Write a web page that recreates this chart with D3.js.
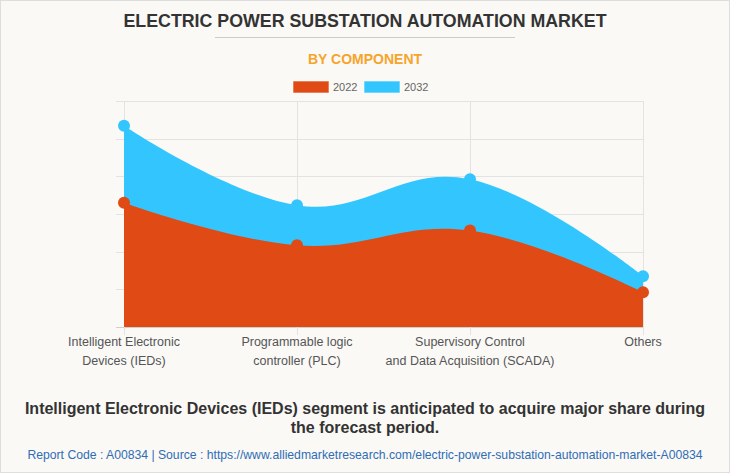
<!DOCTYPE html>
<html>
<head>
<meta charset="utf-8">
<script src="https://cdn.jsdelivr.net/npm/d3@7"></script>
<style>
  html, body { margin: 0; padding: 0; background: #faf9f5; }
  svg { display: block; font-family: "Liberation Sans", Arial, sans-serif; }
</style>
</head>
<body>
<svg id="main"></svg>
<script>
var categories = [
  ["Intelligent Electronic", "Devices (IEDs)"],
  ["Programmable logic", "controller (PLC)"],
  ["Supervisory Control", "and Data Acquisition (SCADA)"],
  ["Others"]
];
var years = ["2022", "2032"];
var values2022 = [3.30, 2.17, 2.56, 0.92];
var values2032 = [5.34, 3.23, 3.92, 1.35];
var yTicks = [0, 1, 2, 3, 4, 5, 6];

var W = 730, H = 473;
var colors = { "2022": "#e04a15", "2032": "#33c6fe" };

var svg = d3.select("#main").attr("width", W).attr("height", H);

// page frame
svg.append("rect")
  .attr("x", 0.5).attr("y", 0.5)
  .attr("width", W - 1).attr("height", H - 1)
  .attr("fill", "#faf9f5").attr("stroke", "#dedede");

// titles
svg.append("text")
  .attr("x", W / 2).attr("y", 27)
  .attr("text-anchor", "middle")
  .attr("font-size", "17.8px").attr("font-weight", "bold")
  .attr("fill", "#333")
  .text("ELECTRIC POWER SUBSTATION AUTOMATION MARKET");

svg.append("line")
  .attr("x1", 215).attr("x2", 515)
  .attr("y1", 37.5).attr("y2", 37.5)
  .attr("stroke", "#cccccc");

svg.append("text")
  .attr("x", W / 2).attr("y", 64)
  .attr("text-anchor", "middle")
  .attr("font-size", "14px").attr("font-weight", "bold")
  .attr("fill", "#f7a42b")
  .text("BY COMPONENT");

// legend
var legend = svg.append("g");
var legX = [293, 364];
years.forEach(function(yr, i) {
  legend.append("rect")
    .attr("x", legX[i]).attr("y", 81)
    .attr("width", 36).attr("height", 12)
    .attr("fill", colors[yr])
    .attr("stroke", "#fff").attr("stroke-opacity", 0.6);
  legend.append("text")
    .attr("x", legX[i] + 40).attr("y", 91)
    .attr("font-size", "11px")
    .attr("fill", "#666")
    .text(yr);
});

// scales
var x = d3.scalePoint()
  .domain(d3.range(categories.length))
  .range([124, 643]);

var y = d3.scaleLinear()
  .domain([0, 6])
  .range([327, 101]);

var g = svg.append("g");

// grid
g.selectAll(".hgrid").data(yTicks).enter().append("line")
  .attr("x1", 116).attr("x2", 643)
  .attr("y1", function(d) { return Math.round(y(d)) + 0.5; })
  .attr("y2", function(d) { return Math.round(y(d)) + 0.5; })
  .attr("stroke", function(d) { return d === 0 ? "#cfcfcf" : "#e3e3e3"; });

g.selectAll(".vgrid").data(x.domain()).enter().append("line")
  .attr("x1", function(d) { return Math.round(x(d)) + 0.5; })
  .attr("x2", function(d) { return Math.round(x(d)) + 0.5; })
  .attr("y1", y(6)).attr("y2", y(0) + 8)
  .attr("stroke", "#e3e3e3");

var curve = d3.curveCardinal.tension(-0.2);

function drawSeries(vals, col) {
  var area = d3.area()
    .x(function(d, i) { return x(i); })
    .y0(y(0))
    .y1(function(d) { return y(d); })
    .curve(curve);

  g.append("path")
    .datum(vals)
    .attr("d", area)
    .attr("fill", col);

  g.selectAll(null).data(vals).enter().append("circle")
    .attr("cx", function(d, i) { return x(i); })
    .attr("cy", function(d) { return y(d); })
    .attr("r", 6)
    .attr("fill", col);
}

drawSeries(values2032, colors["2032"]);
drawSeries(values2022, colors["2022"]);

// x labels
categories.forEach(function(lines, i) {
  var t = g.append("text")
    .attr("text-anchor", "middle")
    .attr("font-size", "12.5px")
    .attr("fill", "#555");
  lines.forEach(function(l, k) {
    t.append("tspan")
      .attr("x", x(i))
      .attr("y", 346 + k * 19)
      .text(l);
  });
});

// footer
var foot = svg.append("text")
  .attr("text-anchor", "middle")
  .attr("font-size", "16px").attr("font-weight", "bold")
  .attr("fill", "#333");
foot.append("tspan").attr("x", W / 2).attr("y", 414)
  .text("Intelligent Electronic Devices (IEDs) segment is anticipated to acquire major share during");
foot.append("tspan").attr("x", W / 2).attr("y", 433)
  .text("the forecast period.");

svg.append("text")
  .attr("x", W / 2).attr("y", 459)
  .attr("text-anchor", "middle")
  .attr("font-size", "12.2px")
  .attr("fill", "#2f6db5")
  .text("Report Code : A00834  |  Source : https://www.alliedmarketresearch.com/electric-power-substation-automation-market-A00834");
</script>
</body>
</html>
